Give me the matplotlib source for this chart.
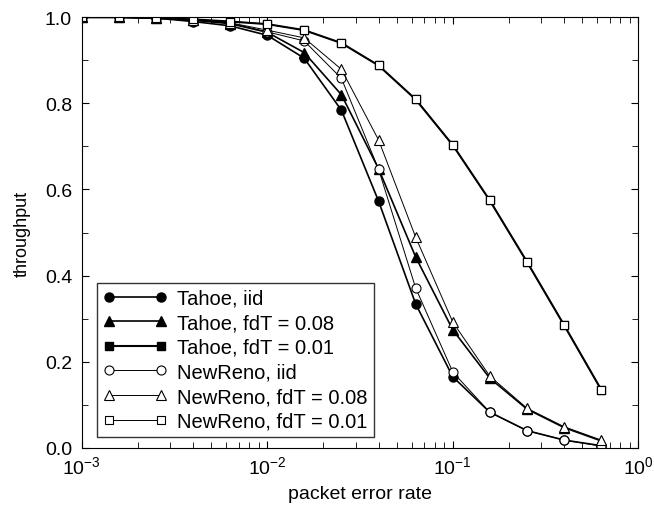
import numpy as np
import matplotlib.pyplot as plt
from matplotlib.ticker import LogLocator, MultipleLocator, FixedLocator, FormatStrFormatter

# packet error rate (0.2-decade steps)
per = [1e-3, 1.58e-3, 2.51e-3, 3.98e-3, 6.31e-3, 1e-2, 1.58e-2, 2.51e-2,
       3.98e-2, 6.31e-2, 1e-1, 1.58e-1, 2.51e-1, 3.98e-1, 6.31e-1]

tahoe_iid = [1.0, 1.0, 0.998, 0.99, 0.98, 0.958, 0.905, 0.784,
             0.573, 0.334, 0.165, 0.083, 0.04, 0.018, 0.005]
tahoe_008 = [1.0, 1.0, 0.998, 0.993, 0.985, 0.965, 0.918, 0.82,
             0.648, 0.443, 0.274, 0.162, 0.09, 0.047, 0.016]
tahoe_001 = [1.0, 1.0, 0.998, 0.995, 0.99, 0.984, 0.97, 0.94,
             0.888, 0.809, 0.703, 0.575, 0.432, 0.285, 0.135]
newreno_iid = [1.0, 1.0, 0.998, 0.994, 0.986, 0.966, 0.945, 0.858,
               0.647, 0.371, 0.176, 0.083, 0.04, 0.018, 0.004]
newreno_008 = [1.0, 1.0, 0.998, 0.994, 0.987, 0.97, 0.952, 0.879,
               0.715, 0.489, 0.292, 0.167, 0.092, 0.049, 0.018]
newreno_001 = [1.0, 1.0, 0.998, 0.995, 0.99, 0.984, 0.97, 0.94,
               0.888, 0.81, 0.703, 0.575, 0.432, 0.285, 0.135]

plt.rcParams['font.family'] = ['Liberation Sans', 'DejaVu Sans']
plt.rcParams['mathtext.fontset'] = 'custom'
plt.rcParams['mathtext.rm'] = 'Liberation Sans'
plt.rcParams['mathtext.it'] = 'Liberation Sans'

fig = plt.figure(figsize=(6.54, 5.06), dpi=100)
ax = fig.add_axes([0.125, 0.113, 0.851, 0.851])

ax.plot(per, tahoe_iid, '-o', color='black', mfc='black', ms=6.5, lw=1.2, label='Tahoe, iid')
ax.plot(per, tahoe_008, '-^', color='black', mfc='black', ms=7, lw=1.2, label='Tahoe, fdT = 0.08')
ax.plot(per, tahoe_001, '-s', color='black', mfc='black', ms=5.5, lw=1.5, label='Tahoe, fdT = 0.01')
ax.plot(per, newreno_iid, '-o', color='black', mfc='white', ms=6.5, lw=0.7, mew=0.8, label='NewReno, iid')
ax.plot(per, newreno_008, '-^', color='black', mfc='white', ms=7, lw=0.7, mew=0.8, label='NewReno, fdT = 0.08')
ax.plot(per, newreno_001, '-s', color='black', mfc='white', ms=5.8, lw=0.7, mew=0.8, label='NewReno, fdT = 0.01')

ax.set_xscale('log')
ax.set_xlim(1e-3, 1)
ax.set_ylim(0, 1)
ax.xaxis.set_major_locator(FixedLocator([1e-3, 1e-2, 1e-1, 1]))
ax.xaxis.set_minor_locator(LogLocator(base=10, subs=np.arange(2, 10)))
ax.yaxis.set_major_locator(MultipleLocator(0.2))
ax.yaxis.set_minor_locator(MultipleLocator(0.1))
ax.yaxis.set_major_formatter(FormatStrFormatter('%.1f'))
ax.tick_params(which='both', direction='in', top=True, right=True, labelsize=14)
ax.tick_params(which='major', length=5)
ax.tick_params(which='minor', length=4)
ax.tick_params(axis='x', pad=5)
ax.tick_params(axis='y', pad=7)

ax.set_xlabel('packet error rate', fontsize=14, labelpad=6)
ax.set_ylabel('throughput', fontsize=13, labelpad=10)

leg = ax.legend(loc='lower left', bbox_to_anchor=(0.027, 0.0255), fontsize=14.5,
                frameon=True, fancybox=False, edgecolor='black', numpoints=2,
                handlelength=3.2, handletextpad=0.5, borderaxespad=0,
                labelspacing=0.28, borderpad=0.3)
leg.get_frame().set_linewidth(1.0)

fig.savefig('out.png', dpi=100)
